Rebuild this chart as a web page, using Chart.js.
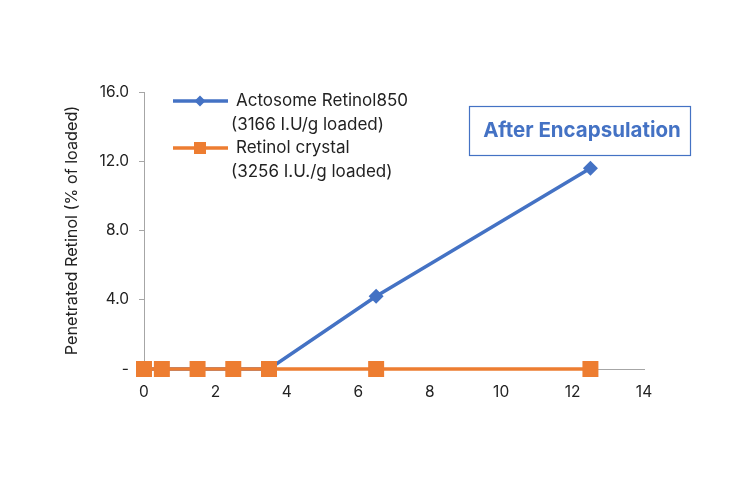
<!DOCTYPE html>
<html>
<head>
<meta charset="utf-8">
<script src="https://cdn.jsdelivr.net/npm/chart.js@4"></script>
<style>
  html, body { margin: 0; padding: 0; background: #fff; }
  #wrap { width: 750px; height: 490px; }
</style>
</head>
<body>
<div id="wrap"><canvas id="chart" width="750" height="490"></canvas></div>
<script>
// Data
const xValues = [0, 0.5, 1.5, 2.5, 3.5, 6.5, 12.5];
const actosomeValues = [0, 0, 0, 0, 0, 4.2, 11.6];
const crystalValues = [0, 0, 0, 0, 0, 0, 0];
const seriesNames = [
  ["Actosome Retinol850", "(3166 I.U/g loaded)"],
  ["Retinol crystal", "(3256 I.U./g loaded)"]
];
const yTickLabels = ["-", "4.0", "8.0", "12.0", "16.0"];
const boxText = "After Encapsulation";

const BLUE = "#4472C4";
const ORANGE = "#ED7D31";
const AXIS = "#a6a6a6";
const TEXT = "#222222";
const FONT = "Inter, 'Noto Sans', sans-serif";

const toPoints = (xs, ys) => xs.map((x, i) => ({ x: x, y: ys[i] }));

// Legend + "After Encapsulation" box drawn on the canvas
const extras = {
  id: "extras",
  afterDraw(chart) {
    const ctx = chart.ctx;
    ctx.save();
    // legend
    const rows = [
      { color: BLUE, style: "diamond", y: 101, lines: seriesNames[0] },
      { color: ORANGE, style: "square", y: 148, lines: seriesNames[1] }
    ];
    ctx.font = "17px " + FONT;
    ctx.textBaseline = "middle";
    rows.forEach(r => {
      ctx.strokeStyle = r.color;
      ctx.lineWidth = 3.5;
      ctx.beginPath();
      ctx.moveTo(173, r.y);
      ctx.lineTo(228, r.y);
      ctx.stroke();
      ctx.fillStyle = r.color;
      ctx.beginPath();
      if (r.style === "diamond") {
        ctx.moveTo(200, r.y - 5.5);
        ctx.lineTo(205.5, r.y);
        ctx.lineTo(200, r.y + 5.5);
        ctx.lineTo(194.5, r.y);
        ctx.closePath();
      } else {
        ctx.rect(194, r.y - 6, 12, 12);
      }
      ctx.fill();
      ctx.fillStyle = TEXT;
      ctx.textAlign = "left";
      ctx.fillText(r.lines[0], 236, r.y);
      ctx.fillText(r.lines[1], 231, r.y + 24);
    });

    // annotation box
    ctx.strokeStyle = BLUE;
    ctx.lineWidth = 1.2;
    ctx.strokeRect(469.5, 106.5, 221, 49);
    ctx.fillStyle = BLUE;
    ctx.font = "bold 20.5px " + FONT;
    ctx.textAlign = "center";
    ctx.fillText(boxText, 582, 131);
    ctx.restore();
  }
};

const chart = new Chart(document.getElementById("chart"), {
  type: "line",
  data: {
    datasets: [
      {
        label: seriesNames[0].join(" "),
        data: toPoints(xValues, actosomeValues),
        borderColor: BLUE,
        backgroundColor: BLUE,
        borderWidth: 3.5,
        pointStyle: "rectRot",
        pointRadius: 7.5,
        pointHoverRadius: 7.5,
        pointBorderWidth: 0,
        tension: 0,
        clip: false,
        order: 2
      },
      {
        label: seriesNames[1].join(" "),
        data: toPoints(xValues, crystalValues),
        borderColor: ORANGE,
        backgroundColor: ORANGE,
        borderWidth: 3.5,
        pointStyle: "rect",
        pointRadius: 11.3,
        pointHoverRadius: 11.3,
        pointBorderWidth: 0,
        tension: 0,
        clip: false,
        order: 1
      }
    ]
  },
  options: {
    responsive: false,
    animation: false,
    events: [],
    layout: { padding: { top: 92, right: 106, bottom: 0, left: 0 } },
    plugins: {
      legend: { display: false },
      tooltip: { enabled: false }
    },
    scales: {
      x: {
        type: "linear",
        min: 0,
        max: 14,
        afterFit(scale) { scale.height = 121; },
        border: { display: true, color: AXIS, width: 1 },
        grid: { display: false, drawTicks: false },
        ticks: {
          stepSize: 2,
          padding: 14,
          color: TEXT,
          font: { family: FONT, size: 15.5 }
        }
      },
      y: {
        min: 0,
        max: 16,
        afterFit(scale) { scale.width = 144; },
        border: { display: true, color: AXIS, width: 1 },
        grid: { drawOnChartArea: false, drawTicks: true, tickLength: 5, color: AXIS },
        ticks: {
          stepSize: 4,
          padding: 10,
          color: TEXT,
          font: { family: FONT, size: 15.5 },
          callback: (value, index) => yTickLabels[index]
        },
        title: {
          display: true,
          text: "Penetrated Retinol (% of loaded)",
          color: TEXT,
          font: { family: FONT, size: 16.2 },
          padding: { top: 62 }
        }
      }
    }
  },
  plugins: [extras]
});
</script>
</body>
</html>
